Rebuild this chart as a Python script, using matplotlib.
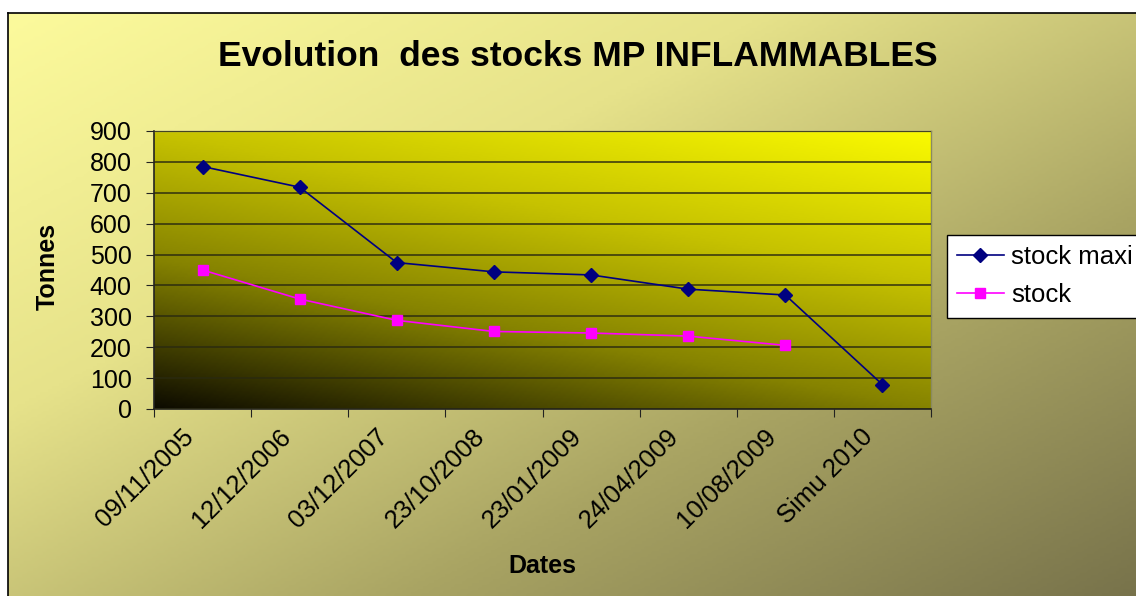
import numpy as np
import matplotlib
matplotlib.use("Agg")
import matplotlib.pyplot as plt
from matplotlib.colors import LinearSegmentedColormap
from matplotlib.transforms import ScaledTranslation

plt.rcParams['font.family'] = ['Liberation Sans', 'DejaVu Sans']

# data
dates = ['09/11/2005', '12/12/2006', '03/12/2007', '23/10/2008',
         '23/01/2009', '24/04/2009', '10/08/2009', 'Simu 2010']
stock_maxi = [785, 718, 474, 444, 434, 388, 369, 79]
stock = [450, 356, 287, 251, 246, 236, 206, np.nan]
y_ticks = [0, 100, 200, 300, 400, 500, 600, 700, 800, 900]

fig = plt.figure(figsize=(11.36, 5.96), dpi=100)
fig.patch.set_facecolor('white')

# outer chart area with diagonal gradient (border runs off right/bottom)
bg = fig.add_axes([8 / 1136, -0.02, 1.0, 583 / 596 + 0.02], zorder=0)
gx, gy = np.meshgrid(np.linspace(0, 1, 300), np.linspace(0, 1, 200))
bg_cmap = LinearSegmentedColormap.from_list('bg', ['#fcfa9c', '#e6e28a', '#a9a463', '#76714a'])
bg.imshow((gx + gy) / 2, cmap=bg_cmap, aspect='auto', extent=[0, 1, 0, 1], origin='upper')
bg.set_xticks([])
bg.set_yticks([])
for s in bg.spines.values():
    s.set_color('black')
    s.set_linewidth(1.2)

# plot area: dark bottom-left to bright yellow top-right
ax = fig.add_axes([154 / 1136, 1 - 409 / 596, 777 / 1136, 278 / 596], zorder=1)
px, py = np.meshgrid(np.linspace(0, 1, 300), np.linspace(0, 1, 200))
pa_cmap = LinearSegmentedColormap.from_list(
    'pa', [(0, '#0d0b00'), (0.35, '#868300'), (0.65, '#c6c200'), (1, '#fafa00')])
ax.imshow(0.35 * px + 0.65 * py, cmap=pa_cmap, aspect='auto', extent=[0, 8, 0, 900],
          origin='lower', zorder=0)

x = np.arange(len(dates)) + 0.5
ax.plot(x, stock_maxi, color='#000080', lw=1.2, marker='D', ms=7, label='stock maxi', zorder=3)
ax.plot(x, stock, color='#ff00ff', lw=1.2, marker='s', ms=6.5, label='stock', zorder=3)

ax.set_xlim(0, 8)
ax.set_ylim(0, 900)
ax.set_yticks(y_ticks)
ax.set_yticklabels([str(v) for v in y_ticks])
ax.yaxis.grid(True, color='#2a2a10', alpha=0.75, lw=1.4)
ax.set_axisbelow(False)

ax.set_xticks(np.arange(0, 9))
ax.set_xticklabels([])
ax.set_xticks(x, minor=True)
ax.set_xticklabels(dates, minor=True, rotation=45, ha='right', va='center',
                   rotation_mode='anchor', fontsize=18.5)
ax.tick_params(axis='x', which='minor', length=0, pad=17)
ax.tick_params(axis='x', which='major', length=6, direction='out', color='#222222')
ax.tick_params(axis='y', length=6, direction='out', pad=10, labelsize=18, color='#222222')
shift = ScaledTranslation(-13 / 100, 0, fig.dpi_scale_trans)
for lab in ax.get_xticklabels(minor=True):
    lab.set_transform(lab.get_transform() + shift)

for side in ['left', 'bottom']:
    ax.spines[side].set_color('#222222')
    ax.spines[side].set_linewidth(1.2)
for side in ['top', 'right']:
    ax.spines[side].set_color('#8a8a60')
    ax.spines[side].set_linewidth(1.0)

ax.set_ylabel('Tonnes', fontsize=18, fontweight='bold', va='center')
ax.yaxis.set_label_coords(-0.1364, 0.514)
ax.set_xlabel('Dates', fontsize=18, fontweight='bold', va='center')
ax.xaxis.set_label_coords(0.5, -0.565)

fig.text(578 / 1136, 1 - 57 / 596, 'Evolution  des stocks MP INFLAMMABLES',
         ha='center', va='center', fontsize=25.5, fontweight='bold')

leg = ax.legend(loc='upper left', bbox_to_anchor=(947 / 1136, 1 - 235 / 596),
                bbox_transform=fig.transFigure, fontsize=18.5, frameon=True,
                fancybox=False, edgecolor='black', framealpha=1, borderpad=0.4,
                handlelength=1.8, handletextpad=0.3, labelspacing=0.55,
                borderaxespad=0)
leg.get_frame().set_linewidth(1.0)
leg.set_zorder(5)

fig.savefig('out.png', dpi=100)
